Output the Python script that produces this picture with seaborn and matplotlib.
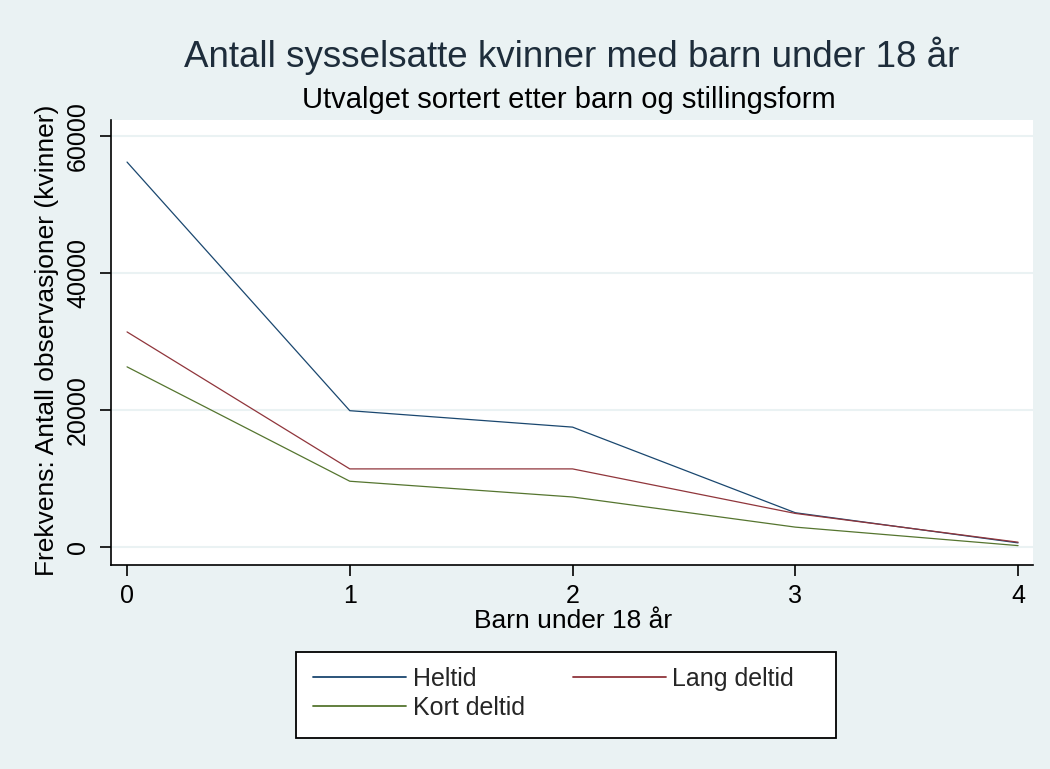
import matplotlib
matplotlib.use("Agg")
import matplotlib.pyplot as plt
import matplotlib.patches as mpatches
from matplotlib.lines import Line2D
import seaborn as sns
import pandas as pd

# Data
barn = [0, 1, 2, 3, 4]
heltid = [56200, 19900, 17500, 5000, 600]
lang_deltid = [31400, 11400, 11400, 4900, 700]
kort_deltid = [26300, 9600, 7300, 2900, 200]
series_names = ["Heltid", "Lang deltid", "Kort deltid"]
y_ticks = [0, 20000, 40000, 60000]
x_ticks = [0, 1, 2, 3, 4]

title = "Antall sysselsatte kvinner med barn under 18 år"
subtitle = "Utvalget sortert etter barn og stillingsform"
xlabel = "Barn under 18 år"
ylabel = "Frekvens: Antall observasjoner (kvinner)"

df = pd.DataFrame({
    "barn": barn * 3,
    "antall": heltid + lang_deltid + kort_deltid,
    "serie": [series_names[0]] * 5 + [series_names[1]] * 5 + [series_names[2]] * 5,
})

sns.set_theme(style="white")
plt.rcParams["font.family"] = ["Liberation Sans", "DejaVu Sans"]

W, H = 1050, 769
bg = "#EAF2F3"
palette = {"Heltid": "#1A476F", "Lang deltid": "#90353B", "Kort deltid": "#55752F"}

fig = plt.figure(figsize=(10.5, 7.69), dpi=100, facecolor=bg)
ax = fig.add_axes([111 / W, 1 - 565 / H, (1033 - 111) / W, (565 - 120) / H])
ax.set_facecolor("white")

sns.lineplot(data=df, x="barn", y="antall", hue="serie", palette=palette,
             hue_order=series_names, linewidth=0.9, ax=ax, legend=False)

ax.set_xlim(-0.072, 4.067)
ax.set_ylim(-2630, 62340)
ax.set_xticks(x_ticks)
ax.set_yticks(y_ticks)
ax.set_xticklabels([str(v) for v in x_ticks], fontsize=18)
ax.set_yticklabels([str(v) for v in y_ticks], fontsize=18, rotation=90, va="center")
ax.yaxis.grid(True, color=bg, linewidth=1.5)
ax.xaxis.grid(False)
for side in ["top", "right"]:
    ax.spines[side].set_visible(False)
for side in ["left", "bottom"]:
    ax.spines[side].set_color("black")
    ax.spines[side].set_linewidth(1.2)
ax.tick_params(axis="both", which="major", direction="out", length=8, width=1.2,
               color="black", left=True, bottom=True, labelcolor="black")
ax.tick_params(axis="y", pad=7)
ax.tick_params(axis="x", pad=6)

ax.set_xlabel(xlabel, fontsize=19, color="black")
ax.set_ylabel(ylabel, fontsize=19, color="black")
ax.xaxis.set_label_coords(0.5 + (573 - 572) / 922, -0.0989)
ax.yaxis.set_label_coords(-0.0564, (565 - 340) / 445)

fig.text(572 / W, 1 - 67 / H, title, ha="center", va="baseline", fontsize=26.5, color="#1E2D3B")
fig.text(569 / W, 1 - 108 / H, subtitle, ha="center", va="baseline", fontsize=21, color="black")

# legend frame
fig.patches.append(mpatches.Rectangle((296 / W, 1 - 738 / H), 540 / W, 86 / H,
                                      transform=fig.transFigure, facecolor="white",
                                      edgecolor="black", linewidth=1.3, zorder=1))
handles = {n: Line2D([], [], color=palette[n], linewidth=1.3) for n in series_names}
order = ["Heltid", "Kort deltid", "Lang deltid"]
leg = fig.legend([handles[n] for n in order], order, loc="upper left",
                 bbox_to_anchor=(313 / W, 1 - 667 / H), bbox_transform=fig.transFigure,
                 ncol=2, fontsize=18, frameon=False, handlelength=3.72,
                 columnspacing=1.9, labelspacing=0.2, borderpad=0, borderaxespad=0,
                 handletextpad=0.28)
leg.set_zorder(5)

fig.savefig("out.png", dpi=100, facecolor=bg)
